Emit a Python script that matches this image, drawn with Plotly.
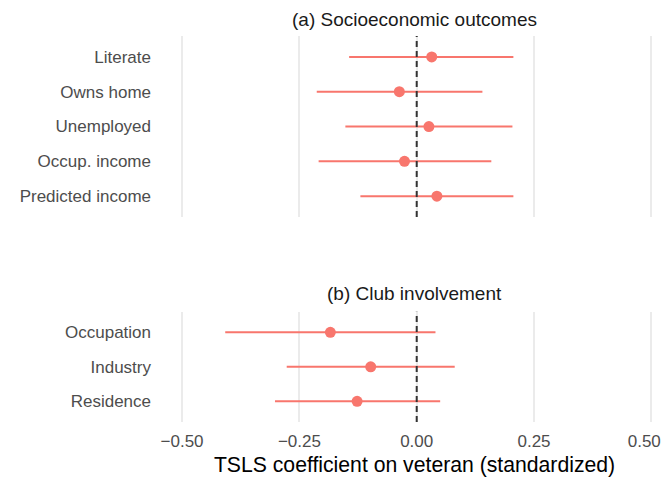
import plotly.graph_objects as go
from plotly.subplots import make_subplots

# Panel (a): Socioeconomic outcomes
cats_a = ["Literate", "Owns home", "Unemployed", "Occup. income", "Predicted income"]
est_a = [0.032, -0.037, 0.026, -0.026, 0.043]
lo_a = [-0.144, -0.213, -0.152, -0.209, -0.120]
hi_a = [0.206, 0.140, 0.204, 0.159, 0.206]

# Panel (b): Club involvement
cats_b = ["Occupation", "Industry", "Residence"]
est_b = [-0.184, -0.098, -0.127]
lo_b = [-0.408, -0.277, -0.302]
hi_b = [0.040, 0.081, 0.050]

xticks = [-0.5, -0.25, 0.0, 0.25, 0.5]
xticklabels = ["\u22120.50", "\u22120.25", "0.00", "0.25", "0.50\u00a0\u00a0\u00a0"]

panel_titles = ["(a) Socioeconomic outcomes", "(b) Club involvement"]
x_title = "TSLS coefficient on veteran (standardized)"

RED = "#F8766D"
FONT = "Liberation Sans, Arial, sans-serif"

fig = make_subplots(rows=2, cols=1, shared_xaxes=False, vertical_spacing=0.1)

def add_panel(row, cats, est, lo, hi):
    fig.add_trace(go.Scatter(
        x=est, y=cats, mode="markers",
        marker=dict(color=RED, size=11, line=dict(width=0)),
        error_x=dict(type="data", symmetric=False,
                     array=[h - e for h, e in zip(hi, est)],
                     arrayminus=[e - l for e, l in zip(est, lo)],
                     color=RED, thickness=2, width=0),
        showlegend=False, hoverinfo="x+y",
    ), row=row, col=1)

add_panel(1, cats_a, est_a, lo_a, hi_a)
add_panel(2, cats_b, est_b, lo_b, hi_b)

xrange = [-0.547, 0.5376]
common_x = dict(range=xrange, tickvals=xticks, ticktext=xticklabels,
                showgrid=True, gridcolor="#EBEBEB", gridwidth=1.6,
                zeroline=False, showline=False, ticks="",
                ticklabeloverflow="allow", automargin=False,
                tickfont=dict(size=17, color="#4D4D4D", family=FONT))
fig.update_xaxes(**common_x)
fig.update_xaxes(showticklabels=False, row=1, col=1)
fig.update_xaxes(row=2, col=1, ticklabelstandoff=7,
                 title=dict(text=x_title, font=dict(size=21.2, color="black", family=FONT), standoff=10))

common_y = dict(type="category", showgrid=False, zeroline=False, showline=False, ticks="",
                ticklabelstandoff=8, automargin=False,
                tickfont=dict(size=17, color="#4D4D4D", family=FONT))
fig.update_yaxes(**common_y)
fig.update_yaxes(range=[len(cats_a) - 0.4, -0.6], categoryorder="array", categoryarray=cats_a,
                 domain=[0.531, 1.0], row=1, col=1)
fig.update_yaxes(range=[len(cats_b) - 0.4, -0.6], categoryorder="array", categoryarray=cats_b,
                 domain=[0.0, 0.2858], row=2, col=1)

# dashed reference line at zero in each panel
for xr, yr in [("x", "y domain"), ("x2", "y2 domain")]:
    fig.add_shape(type="line", xref=xr, yref=yr, x0=0, x1=0, y0=0, y1=1,
                  line=dict(color="#333333", width=2, dash="6px,4px"), layer="above")

# panel titles
fig.add_annotation(text=panel_titles[0], xref="paper", yref="paper", x=0.5, y=1.0,
                   yshift=17, showarrow=False, yanchor="middle",
                   font=dict(size=19, color="#1A1A1A", family=FONT))
fig.add_annotation(text=panel_titles[1], xref="paper", yref="paper", x=0.5, y=0.2858,
                   yshift=18.5, showarrow=False, yanchor="middle",
                   font=dict(size=19, color="#1A1A1A", family=FONT))

fig.update_layout(width=661, height=469,
                  margin=dict(l=152, r=0, t=28, b=55),
                  plot_bgcolor="white", paper_bgcolor="white",
                  font=dict(family=FONT))

fig.write_html("out.html")
